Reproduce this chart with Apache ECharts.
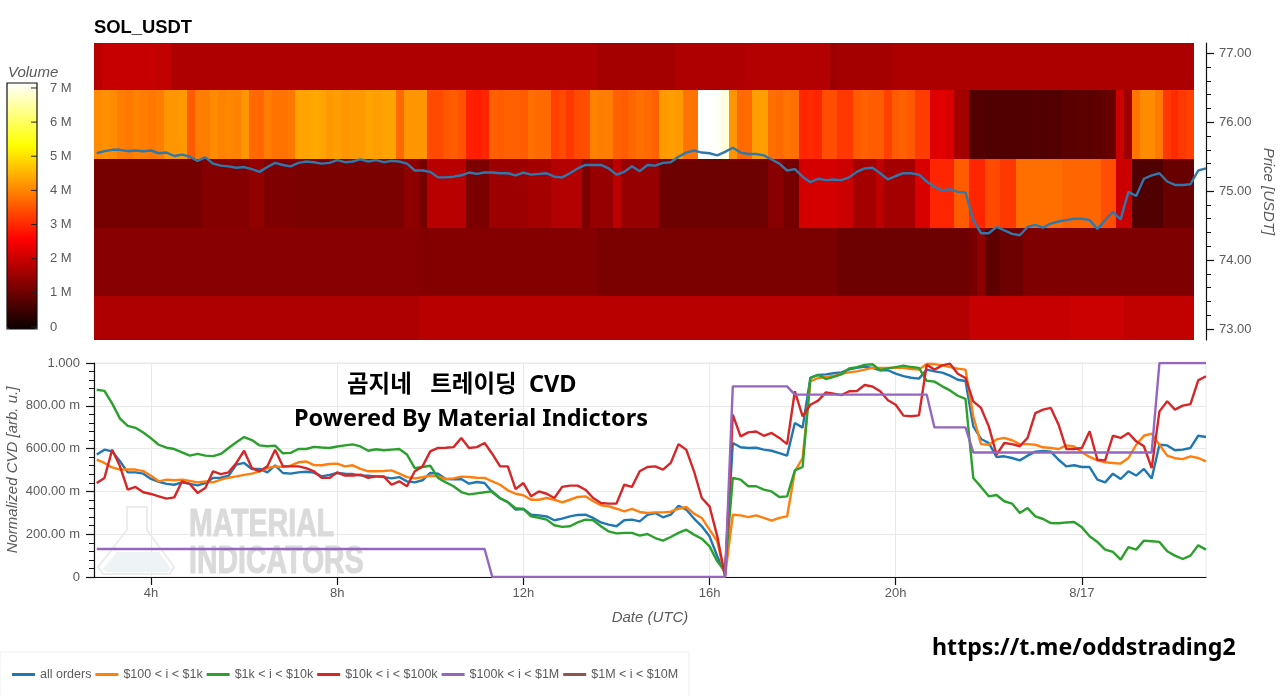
<!DOCTYPE html>
<html>
<head>
<meta charset="utf-8">
<style>html,body{margin:0;padding:0;background:#fff}#c{width:1280px;height:696px}</style>
<script src="https://cdn.jsdelivr.net/npm/echarts@6/dist/echarts.min.js"></script>
</head>
<body>
<div id="c"></div>
<script>
// ---- axis labels / names ----
const seriesNames = ['all orders','$100 < i < $1k','$1k < i < $10k','$10k < i < $100k','$100k < i < $1M','$1M < i < $10M'];
const xTicks = [4,8,12,16,20,24];
const priceTicks = [73,74,75,76,77];
const priceMinorTicks = [73.2,73.4,73.6,73.8,74.2,74.4,74.6,74.8,75.2,75.4,75.6,75.8,76.2,76.4,76.6,76.8];
const volumeTicks = [0,1,2,3,4,5,6,7];

// ---- price line (USDT), 10 min sampling ----
const price = [
75.55,75.58,75.60,75.60,75.58,75.59,75.58,75.59,75.55,75.56,
75.51,75.53,75.50,75.44,75.49,75.40,75.37,75.36,75.34,75.35,
75.32,75.28,75.35,75.41,75.38,75.36,75.41,75.43,75.42,75.40,
75.41,75.45,75.42,75.43,75.46,75.43,75.45,75.42,75.44,75.43,
75.40,75.30,75.30,75.28,75.20,75.20,75.21,75.23,75.27,75.25,
75.27,75.27,75.26,75.26,75.23,75.27,75.24,75.25,75.26,75.21,
75.20,75.26,75.33,75.38,75.38,75.38,75.33,75.24,75.28,75.36,
75.29,75.38,75.37,75.41,75.42,75.50,75.56,75.59,75.56,75.55,
75.52,75.57,75.63,75.56,75.54,75.54,75.52,75.46,75.40,75.30,
75.32,75.21,75.13,75.18,75.16,75.17,75.16,75.20,75.28,75.33,
75.34,75.26,75.17,75.22,75.26,75.26,75.24,75.14,75.06,75.01,
75.03,74.99,74.98,74.58,74.39,74.39,74.48,74.43,74.38,74.36,
74.48,74.51,74.47,74.53,74.56,74.58,74.60,74.60,74.58,74.45,
74.58,74.70,74.59,74.99,74.93,75.18,75.23,75.26,75.14,75.09,
75.09,75.10,75.30,75.33];

// ---- normalized CVD (milli arb. u.) ----
const cvdAll = [
572,595,587,541,489,489,483,458,445,435,
431,442,435,428,439,463,464,473,525,533,
505,505,489,522,486,483,489,492,488,470,
477,486,483,481,475,473,470,467,461,467,
447,442,452,486,483,458,456,458,436,444,
439,396,368,350,315,318,291,288,283,265,
273,283,290,291,276,255,245,237,265,268,
260,290,299,279,291,333,315,273,237,190,
97,16,626,606,603,604,595,590,579,567,
720,698,930,944,947,952,956,970,977,983,
977,966,966,950,939,931,927,969,961,955,
941,922,916,704,645,626,561,564,556,545,
567,586,589,586,548,517,522,514,514,455,
442,483,458,494,474,505,460,618,615,592,
595,603,660,654];
const cvd100to1k = [
548,533,512,502,502,502,495,473,447,455,
452,455,449,442,447,442,455,464,470,477,
483,494,509,517,514,520,536,540,523,522,
528,530,517,522,505,494,494,495,498,483,
467,461,466,473,470,458,461,469,467,464,
463,447,431,405,389,382,361,361,369,361,
349,361,374,377,354,335,330,319,307,318,
304,299,302,302,305,319,327,296,276,221,
167,3,291,288,280,288,276,263,276,283,
494,556,914,930,935,939,950,956,961,969,
977,977,977,978,977,972,969,995,995,989,
981,974,969,751,621,618,643,650,639,621,
621,618,606,603,598,615,610,583,561,545,
536,533,530,556,618,660,670,618,567,555,
551,564,556,540];
const cvd1kto10k = [
875,870,810,740,706,697,675,648,618,604,
598,582,567,575,567,565,575,603,630,654,
640,615,611,614,578,580,598,598,608,605,
603,610,615,620,610,590,597,592,595,598,
572,509,514,520,463,442,424,397,386,391,
396,400,368,350,322,318,283,277,268,242,
234,237,255,268,265,237,213,204,206,206,
193,201,182,170,187,206,221,198,179,143,
73,26,463,455,424,424,408,400,374,377,
498,514,930,944,925,935,947,975,981,991,
994,966,975,981,988,981,977,917,913,891,
872,847,832,463,421,377,383,354,343,299,
322,283,271,252,251,255,257,232,190,164,
128,117,81,140,128,170,167,164,120,100,
84,100,148,128];
const cvd10kto100k = [
439,463,595,517,408,421,396,388,377,366,
372,447,435,393,416,494,481,489,533,590,
509,494,517,595,517,517,517,509,494,463,
463,489,474,474,478,463,470,470,431,447,
424,494,517,587,603,604,607,650,603,607,
626,575,517,517,411,439,377,400,389,369,
421,427,427,408,369,346,343,343,431,421,
494,514,517,502,533,621,595,494,369,330,
190,3,759,657,676,680,660,673,650,621,
868,751,805,824,863,857,850,868,869,897,
890,868,826,805,754,751,755,992,969,989,
997,950,930,821,790,704,572,626,621,611,
650,766,782,790,712,598,598,603,681,548,
545,660,650,673,634,611,509,774,821,782,
801,808,919,938];
const cvd100kto1M = [
131,131,131,131,131,131,131,131,131,131,
131,131,131,131,131,131,131,131,131,131,
131,131,131,131,131,131,131,131,131,131,
131,131,131,131,131,131,131,131,131,131,
131,131,131,131,131,131,131,131,131,131,
131,0,0,0,0,0,0,0,0,0,
0,0,0,0,0,0,0,0,0,0,
0,0,0,0,0,0,0,0,0,0,
0,0,891,891,891,891,891,891,891,891,
852,852,852,852,852,852,852,852,852,852,
852,852,852,852,852,852,852,852,699,699,
699,699,699,582,582,582,582,582,582,582,
582,582,582,582,582,582,582,582,582,582,
582,582,582,582,582,582,582,1000,1000,1000,
1000,1000,1000,1000];
const cvd1Mto10M = [];

// ---- volume per price bin (millions), one value per time column ----
const priceBinEdges = [72.84,73.478,74.46,75.464,76.464,77.15];
const vol73 = [
1.75,1.75,1.75,1.75,1.75,1.75,1.75,1.75,1.75,1.75,
1.75,1.75,1.75,1.75,1.75,1.75,1.75,1.75,1.75,1.75,
1.75,1.75,1.75,1.75,1.75,1.75,1.75,1.75,1.75,1.75,
1.75,1.75,1.75,1.75,1.75,1.75,1.75,1.75,1.75,1.75,
1.75,1.75,1.85,1.85,1.85,1.85,1.85,1.85,1.85,1.85,
1.85,1.85,1.85,1.85,1.85,1.85,1.85,1.85,1.85,1.85,
1.85,1.85,1.85,1.85,1.85,1.85,1.85,1.85,1.85,1.85,
1.85,1.85,1.85,1.85,1.85,1.85,1.85,1.85,1.85,1.85,
1.85,1.85,1.85,1.85,1.85,1.85,1.85,1.85,1.85,1.85,
1.85,1.85,1.85,1.85,1.85,1.85,1.8,1.8,1.8,1.8,
1.8,1.8,1.8,1.8,1.8,1.8,1.8,1.8,1.8,1.8,
1.8,1.8,1.8,2.0,2.0,2.0,2.0,2.0,2.0,2.0,
2.0,2.0,2.0,2.0,2.0,2.0,2.05,2.05,2.05,2.05,
2.05,2.05,2.05,1.95,1.95,1.95,1.95,1.95,1.95,1.95,
1.95,1.95];
const vol74 = [
1.35,1.35,1.35,1.35,1.35,1.35,1.35,1.35,1.35,1.35,
1.35,1.35,1.35,1.35,1.35,1.35,1.35,1.35,1.35,1.35,
1.35,1.35,1.35,1.35,1.35,1.35,1.35,1.35,1.35,1.35,
1.35,1.35,1.35,1.35,1.35,1.35,1.35,1.35,1.35,1.35,
1.35,1.35,1.3,1.3,1.3,1.3,1.3,1.3,1.3,1.3,
1.3,1.3,1.3,1.3,1.3,1.3,1.3,1.3,1.3,1.3,
1.3,1.3,1.3,1.3,1.3,1.2,1.2,1.2,1.2,1.2,
1.2,1.2,1.2,1.2,1.2,1.2,1.2,1.2,1.2,1.2,
1.2,1.2,1.2,1.2,1.2,1.2,1.2,1.2,1.2,1.2,
1.2,1.2,1.2,1.2,1.2,1.2,1.05,1.05,1.05,1.05,
1.05,1.05,1.05,1.05,1.05,1.05,1.05,1.05,1.05,1.05,
1.05,1.05,1.05,1.15,1.4,0.9,0.9,1.05,1.05,1.05,
1.25,1.25,1.25,1.25,1.25,1.25,1.25,1.25,1.25,1.25,
1.25,1.25,1.25,1.25,1.25,1.25,1.25,1.25,1.25,1.25,
1.25,1.25];
const vol75 = [
1.15,1.15,1.15,1.15,1.15,1.15,1.15,1.15,1.15,1.15,
1.15,1.15,1.15,1.15,1.3,1.3,1.3,1.3,1.3,1.3,
1.45,1.45,1.25,1.25,1.25,1.25,1.2,1.2,1.2,1.2,
1.2,1.2,1.2,1.2,1.2,1.2,1.2,1.2,1.2,1.2,
1.4,1.4,1.15,1.85,1.85,1.85,1.85,1.85,1.2,1.2,
1.2,1.55,1.55,1.55,1.55,1.55,1.65,1.65,1.65,1.8,
1.8,1.8,1.8,1.2,1.5,1.5,1.5,1.9,1.5,1.5,
1.5,1.5,1.5,1.05,1.05,1.05,1.05,1.05,1.05,1.05,
1.05,1.05,1.05,1.05,1.05,1.05,1.05,1.35,1.35,1.15,
1.15,2.15,2.15,2.15,2.15,2.15,2.05,2.05,1.65,1.65,
1.65,1.9,1.65,1.65,1.65,1.65,2.2,2.2,3.0,3.0,
3.0,3.6,3.6,3.0,3.0,3.4,3.4,3.2,3.2,3.8,
3.8,3.8,3.8,3.8,3.8,3.7,3.7,3.7,3.7,3.7,
3.45,3.45,2.05,2.05,0.75,0.75,0.75,0.75,1.0,1.0,
1.0,1.0];
const vol76 = [
4.1,4.15,4.1,3.95,3.9,4.0,3.95,3.9,3.95,4.2,
4.2,4.25,3.6,3.95,3.95,4.1,4.0,4.05,4.0,4.2,
3.75,3.7,3.95,3.85,3.85,3.9,4.35,4.35,4.4,4.35,
4.25,4.3,4.2,4.25,4.25,4.35,4.3,4.35,4.35,3.75,
4.2,4.2,4.2,3.4,3.4,3.55,3.6,3.5,2.95,2.9,
3.0,3.65,3.6,3.65,3.65,3.6,3.8,3.75,3.75,3.3,
3.4,3.2,3.4,3.45,4.0,3.95,3.95,3.65,3.6,3.7,
3.8,3.75,3.65,4.25,4.3,4.25,3.85,3.85,7.15,7.15,
7.1,6.9,4.2,3.75,3.75,4.3,4.3,3.8,3.75,3.85,
3.8,3.0,3.05,3.0,3.45,3.45,3.2,3.2,3.6,3.65,
3.6,3.6,3.3,3.6,3.65,3.55,3.25,3.25,2.25,2.3,
2.2,1.65,1.65,0.75,0.8,0.75,0.75,0.75,0.75,0.75,
0.75,0.8,0.75,0.8,0.75,0.85,0.85,0.9,0.85,0.9,
0.95,1.0,2.05,1.55,3.85,4.1,4.1,3.9,3.2,3.05,
3.2,3.3];
const vol77 = [
1.85,2.0,2.0,2.0,2.0,2.0,2.0,2.0,1.95,1.95,
1.75,1.75,1.75,1.75,1.75,1.75,1.75,1.75,1.75,1.75,
1.75,1.75,1.75,1.75,1.75,1.75,1.75,1.75,1.75,1.75,
1.75,1.75,1.75,1.75,1.75,1.75,1.75,1.75,1.75,1.75,
1.75,1.75,1.75,1.75,1.75,1.75,1.75,1.75,1.75,1.75,
1.75,1.75,1.75,1.75,1.75,1.75,1.75,1.75,1.75,1.75,
1.75,1.75,1.75,1.75,1.75,1.65,1.65,1.65,1.65,1.65,
1.65,1.65,1.65,1.65,1.65,1.75,1.75,1.75,1.75,1.75,
1.75,1.75,1.75,1.75,1.8,1.8,1.8,1.8,1.8,1.8,
1.8,1.8,1.8,1.8,1.8,1.55,1.65,1.65,1.65,1.65,
1.65,1.65,1.65,1.7,1.7,1.7,1.7,1.7,1.7,1.7,
1.7,1.7,1.7,1.7,1.7,1.7,1.7,1.7,1.7,1.7,
1.7,1.7,1.7,1.7,1.7,1.7,1.7,1.7,1.7,1.7,
1.7,1.7,1.7,1.7,1.7,1.7,1.7,1.7,1.7,1.7,
1.7,1.7];
const volumeRows = [vol73,vol74,vol75,vol76,vol77];

// ---- time base (hours since 8/16 00:00 UTC) ----
const sampleStart = 2.8333, sampleStep = 1/6;
const heatStart = 2.775, heatStep = 0.1664;
const xMin = 2.775, xMax = 26.667;

const withTime = arr => arr.map((v,i)=>[sampleStart+i*sampleStep, v]);
const heatData = [];
volumeRows.forEach((row,r)=>row.forEach((v,i)=>{
  heatData.push([heatStart+i*heatStep, heatStart+(i+1)*heatStep, priceBinEdges[r], priceBinEdges[r+1], v]);
}));

// "hot" colour map
function hot(t){
  const r=Math.min(1,0.0416+t/0.365*0.9584), g=Math.max(0,Math.min(1,(t-0.365)/0.381)), b=Math.max(0,Math.min(1,(t-0.746)/0.254));
  return 'rgb('+[r,g,b].map(c=>Math.round(c*255)).join(',')+')';
}
const hotStops=[]; for(let k=0;k<=48;k++) hotStops.push(hot(k/48));

const palette=['#1f77b4','#ff7f0e','#2ca02c','#d62728','#9467bd','#8c564b'];
const labelColor='#5a5a5a', axisColor='#111', gridColor='#e9e9e9';
const cvdArrays=[cvdAll,cvd100to1k,cvd1kto10k,cvd10kto100k,cvd100kto1M,cvd1Mto10M];
const nameFont={fontFamily:'Liberation Sans',fontStyle:'italic',fontSize:15,color:labelColor};
const tickFont={fontFamily:'Liberation Sans',fontSize:13,color:labelColor};

const chart=echarts.init(document.getElementById('c'),null,{renderer:'canvas'});
chart.setOption({
  animation:false,
  backgroundColor:'#fff',
  color:palette,
  grid:[
    {left:94,right:74,top:43,height:297,outerBoundsMode:'none'},
    {left:94,right:74,top:363,height:214,show:true,borderColor:gridColor,borderWidth:1,z:0,outerBoundsMode:'none'},
    {left:7,top:83,width:30,height:246,show:true,borderColor:'#111',borderWidth:1.2,backgroundColor:'transparent',z:10,outerBoundsMode:'none'}
  ],
  xAxis:[
    {gridIndex:0,type:'value',min:xMin,max:xMax,show:false},
    {gridIndex:1,type:'value',min:xMin,max:xMax,
      axisLine:{lineStyle:{color:axisColor,width:1.2},onZero:false},
      axisTick:{customValues:xTicks,length:8,lineStyle:{color:axisColor,width:1.2}},
      axisLabel:{customValues:xTicks,margin:10,...tickFont,formatter:v=>v===24?'8/17':v+'h'},
      splitLine:{show:true,lineStyle:{color:gridColor}},
      name:'Date (UTC)',nameLocation:'middle',nameGap:33,nameTextStyle:nameFont},
    {gridIndex:2,type:'value',min:0,max:1,show:false}
  ],
  yAxis:[
    {gridIndex:0,type:'value',min:72.84,max:77.15,position:'right',
      axisLine:{show:true,lineStyle:{color:axisColor,width:1.2}},
      axisTick:{customValues:priceTicks,length:8,lineStyle:{color:axisColor,width:1.2}},
      axisLabel:{customValues:priceTicks,margin:13,...tickFont,formatter:v=>v.toFixed(2)},
      splitLine:{show:false},nameMoveOverlap:false,
      name:'Price [USDT]',nameLocation:'middle',nameRotate:-90,nameGap:55,nameTextStyle:nameFont},
    {gridIndex:0,type:'value',min:72.84,max:77.15,position:'right',
      axisLine:{show:false},
      axisTick:{customValues:priceMinorTicks,length:5,lineStyle:{color:axisColor,width:1}},
      axisLabel:{show:false},splitLine:{show:false}},
    {gridIndex:1,type:'value',min:0,max:1000,interval:200,
      axisLine:{show:true,lineStyle:{color:axisColor,width:1.2}},
      axisTick:{length:8,lineStyle:{color:axisColor,width:1.2}},
      minorTick:{show:true,splitNumber:5,length:5,lineStyle:{color:axisColor}},
      axisLabel:{margin:14,...tickFont,formatter:v=>v===0?'0':v===1000?'1.000':v+'.00 m'},
      splitLine:{show:true,lineStyle:{color:gridColor}},nameMoveOverlap:false,
      name:'Normalized CVD [arb. u.]',nameLocation:'middle',nameRotate:90,nameGap:74,nameTextStyle:nameFont},
    {gridIndex:2,type:'value',min:-0.06,max:7.146,position:'right',
      axisLine:{show:false},
      axisTick:{show:false},
      axisLabel:{customValues:volumeTicks,margin:13,align:'left',...tickFont,formatter:v=>v===0?'0':v+' M'},
      splitLine:{show:false}}
  ],
  visualMap:{type:'continuous',seriesIndex:0,dimension:4,min:0,max:7.15,calculable:false,hoverLink:false,
    left:7,top:83,itemWidth:30,itemHeight:246,padding:0,text:null,inRange:{color:hotStops},z:4},
  legend:{data:seriesNames,left:0,top:652,orient:'horizontal',
    padding:[16,11,30,12],itemWidth:23,itemHeight:3,itemGap:4,icon:'rect',
    borderColor:'#eeeeee',borderWidth:1,
    textStyle:{fontFamily:'Liberation Sans',fontSize:12.5,color:labelColor}},
  graphic:{elements:[
    {type:'text',left:94,top:19,style:{text:'SOL_USDT',font:'bold 18.4px "Liberation Sans"',fill:'#000'}},
    {type:'text',left:8,top:65,style:{text:'Volume',font:'italic 15px "Liberation Sans"',fill:labelColor}},
    {type:'text',left:347,top:374,z:20,style:{text:'곰지네   트레이딩  CVD',font:'bold 23.5px "Noto Sans","Noto Sans CJK KR"',fill:'#000'}},
    {type:'text',left:294,top:407,z:20,style:{text:'Powered By Material Indictors',font:'bold 23.5px "Noto Sans"',fill:'#000'}},
    {type:'text',left:932,top:637,style:{text:'https://t.me/oddstrading2',font:'bold 23.2px "Noto Sans"',fill:'#000'}},
    {type:'polygon',z:1,silent:true,shape:{points:[[127,507],[147,507],[147,530],[174,567],[170,574],[103,574],[98,567],[127,530]]},style:{fill:'none',stroke:'#ececec',lineWidth:2}},
    {type:'polygon',z:1,silent:true,shape:{points:[[117,552],[159,552],[171,569],[168,572],[106,572],[103,569]]},style:{fill:'#eef3f5'}},
    {type:'text',z:1,silent:true,x:189,y:507,scaleX:0.75,style:{text:'MATERIAL',font:'bold 38px "Liberation Sans"',fill:'#dadada',stroke:'#dadada',lineWidth:1}},
    {type:'text',z:1,silent:true,x:189,y:544,scaleX:0.75,style:{text:'INDICATORS',font:'bold 38px "Liberation Sans"',fill:'#dadada',stroke:'#dadada',lineWidth:1}}
  ]},
  series:[
    {name:'volume',type:'custom',xAxisIndex:0,yAxisIndex:0,z:1,silent:true,
      encode:{x:[0,1],y:[2,3]},data:heatData,
      renderItem:(params,api)=>{
        const a=api.coord([api.value(0),api.value(3)]),b=api.coord([api.value(1),api.value(2)]);
        const x0=Math.round(a[0]),x1=Math.round(b[0]),y0=Math.round(a[1]),y1=Math.round(b[1]);
        return {type:'rect',shape:{x:x0,y:y0,width:x1-x0,height:y1-y0},style:{fill:api.visual('color')}};
      }},
    {name:'price',type:'line',xAxisIndex:0,yAxisIndex:0,z:3,symbol:'none',silent:true,
      lineStyle:{color:'#2f78ad',width:2.4},data:withTime(price)},
    ...seriesNames.map((n,k)=>({name:n,type:'line',xAxisIndex:1,yAxisIndex:2,z:3+k,symbol:'none',showSymbol:false,silent:true,
      clip:true,lineStyle:{color:palette[k],width:2.4},itemStyle:{color:palette[k]},data:withTime(cvdArrays[k])})),
    {name:'volume ticks',type:'custom',xAxisIndex:2,yAxisIndex:3,z:12,silent:true,clip:false,
      data:volumeTicks.map(v=>[0.8,1,v]),encode:{x:[0,1],y:2},
      renderItem:(params,api)=>{
        const a=api.coord([api.value(0),api.value(2)]),b=api.coord([api.value(1),api.value(2)]);
        return {type:'line',shape:{x1:a[0],y1:a[1],x2:b[0],y2:b[1]},style:{stroke:'#222',lineWidth:1}};
      }}
  ]
});
</script>
</body>
</html>
